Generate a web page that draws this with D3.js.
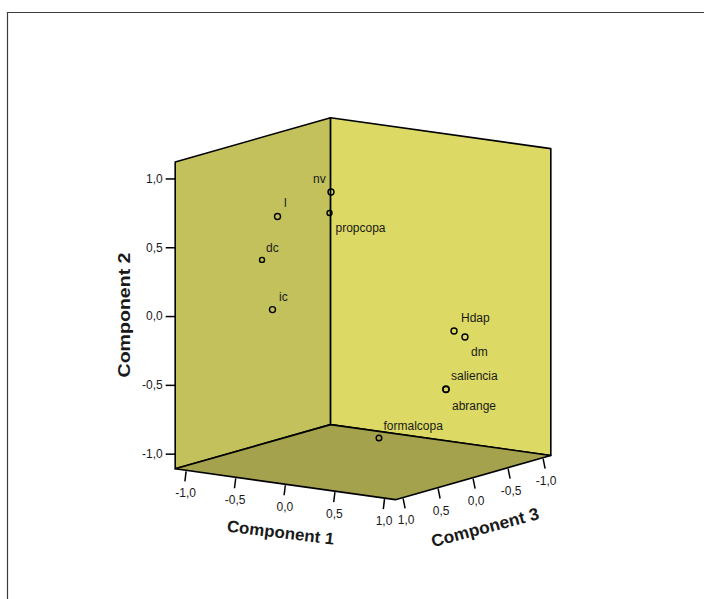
<!DOCTYPE html>
<html><head><meta charset="utf-8">
<script src="https://cdn.jsdelivr.net/npm/d3@7"></script>
<style>html,body{margin:0;padding:0;background:#fff}svg{display:block}text{font-family:"Liberation Sans",Arial,sans-serif;fill:#1a1a1a}</style>
</head><body><svg id="c" width="704" height="599"></svg>
<script>
const names=["nv","propcopa","l","dc","ic","Hdap","dm","saliencia","abrange","formalcopa"];
const comp1=[-0.252,-0.267,-0.509,-0.665,-0.489,0.706,0.781,0.766,0.766,0.302];
const comp2=[0.842,0.688,0.696,0.365,0.036,-0.129,-0.172,-0.516,-0.520,-0.875];
const comp3=[0.10,0.10,0.50,0.50,0.60,-0.30,-0.35,-0.10,-0.10,0.20];
const tickVals=[-1,-0.5,0,0.5,1];
const axisTitles=["Component 1","Component 2","Component 3"];

const svg=d3.select("#c");
const lim=1.11, wallTop=1.12;
const x1=d3.scaleLinear().domain([-1,1]).range([-99.2,99.2]);
const y1=d3.scaleLinear().domain([-1,1]).range([-13.9,13.9]);
const x3=d3.scaleLinear().domain([-1,1]).range([70,-70]);
const y3=d3.scaleLinear().domain([-1,1]).range([-19.9,19.9]);
const y2=d3.scaleLinear().domain([-1,1]).range([137.6,-137.6]);
const cx=363,cy=309.4;
const P=(a,b,c)=>[cx+x1(a)+x3(c),cy+y1(a)+y3(c)+y2(b)];
const fmtLoc=d3.formatLocale({decimal:",",thousands:".",grouping:[3],currency:["",""],minus:"-"});
const fmt=fmtLoc.format(".1f");

svg.append("path").attr("d","M7.5,599V12.5H704").attr("fill","none").attr("stroke","#3c3c3c").attr("stroke-width",1.2);

const poly=(pts,fill)=>svg.append("path").attr("d","M"+pts.map(p=>p.join(",")).join("L")+"Z")
  .attr("fill",fill).attr("stroke","#000").attr("stroke-width",1.6).attr("stroke-linejoin","round");
const L=lim;
poly([P(-L,wallTop,L),P(-L,wallTop,-L),P(-L,-L,-L),P(-L,-L,L)],"#c3c15c");
poly([P(-L,wallTop,-L),P(L,wallTop,-L),P(L,-L,-L),P(-L,-L,-L)],"#dcd964");
poly([P(-L,-L,L),P(-L,-L,-L),P(L,-L,-L),P(L,-L,L)],"#a5a24d");

const corner=P(-L,0,L);
const ax2=d3.scaleLinear().domain([-1,1]).range([corner[1]+y2(-1),corner[1]+y2(1)]);
const g2=svg.append("g").attr("transform",`translate(${corner[0]},0)`)
  .call(d3.axisLeft(ax2).tickValues(tickVals).tickFormat(fmt).tickSize(9.5).tickPadding(3));
g2.select(".domain").remove();
g2.selectAll("line").attr("stroke","#000").attr("stroke-width",1.5);
g2.selectAll("text").attr("font-size",12).attr("font-family",'"Liberation Sans",Arial,sans-serif');

const t1=svg.append("g").selectAll("g").data(tickVals).join("g")
  .attr("transform",d=>{const p=P(d,-L,L);return `translate(${p[0]},${p[1]})`;});
t1.append("line").attr("x1",0).attr("y1",1).attr("x2",-1.2).attr("y2",11).attr("stroke","#000").attr("stroke-width",1.5);
t1.append("text").text(fmt).attr("text-anchor","middle").attr("x",-0.5).attr("y",27).attr("font-size",12);

const t3=svg.append("g").selectAll("g").data(tickVals).join("g")
  .attr("transform",d=>{const p=P(L,-L,d);return `translate(${p[0]},${p[1]})`;});
t3.append("line").attr("x1",0).attr("y1",1).attr("x2",2).attr("y2",11).attr("stroke","#000").attr("stroke-width",1.5);
t3.append("text").text(fmt).attr("text-anchor","middle").attr("x",3).attr("y",27).attr("font-size",12);

const title=(s,x,y,r,fs,len)=>svg.append("text").text(s).attr("text-anchor","middle")
  .attr("x",0).attr("y",0).attr("textLength",len).attr("lengthAdjust","spacingAndGlyphs")
  .attr("transform",`translate(${x},${y}) rotate(${r})`).attr("font-size",fs).attr("font-weight","bold").attr("fill","#000");
title(axisTitles[0],280,538,7,16.5,108);
title(axisTitles[1],130,315,-90,16.5,125);
title(axisTitles[2],486.5,533,-15,17,111);

const labelShift=[[-18,-9],[6,19],[6.5,-9.5],[4,-8],[6.5,-8.5],[7,-9],[6,19],[5,-9],[6,20.5],[4.5,-8]];
const radius=[3,2.5,3,2.5,3,3,3,3.2,3,2.8];
d3.range(names.length).forEach(i=>{
  const p=P(comp1[i],comp2[i],comp3[i]);
  svg.append("circle").attr("cx",p[0]).attr("cy",p[1]).attr("r",radius[i])
    .attr("fill","none").attr("stroke","#000").attr("stroke-width",1.4);
  svg.append("text").text(names[i]).attr("x",p[0]+labelShift[i][0]).attr("y",p[1]+labelShift[i][1]).attr("font-size",12);
});
</script></body></html>
